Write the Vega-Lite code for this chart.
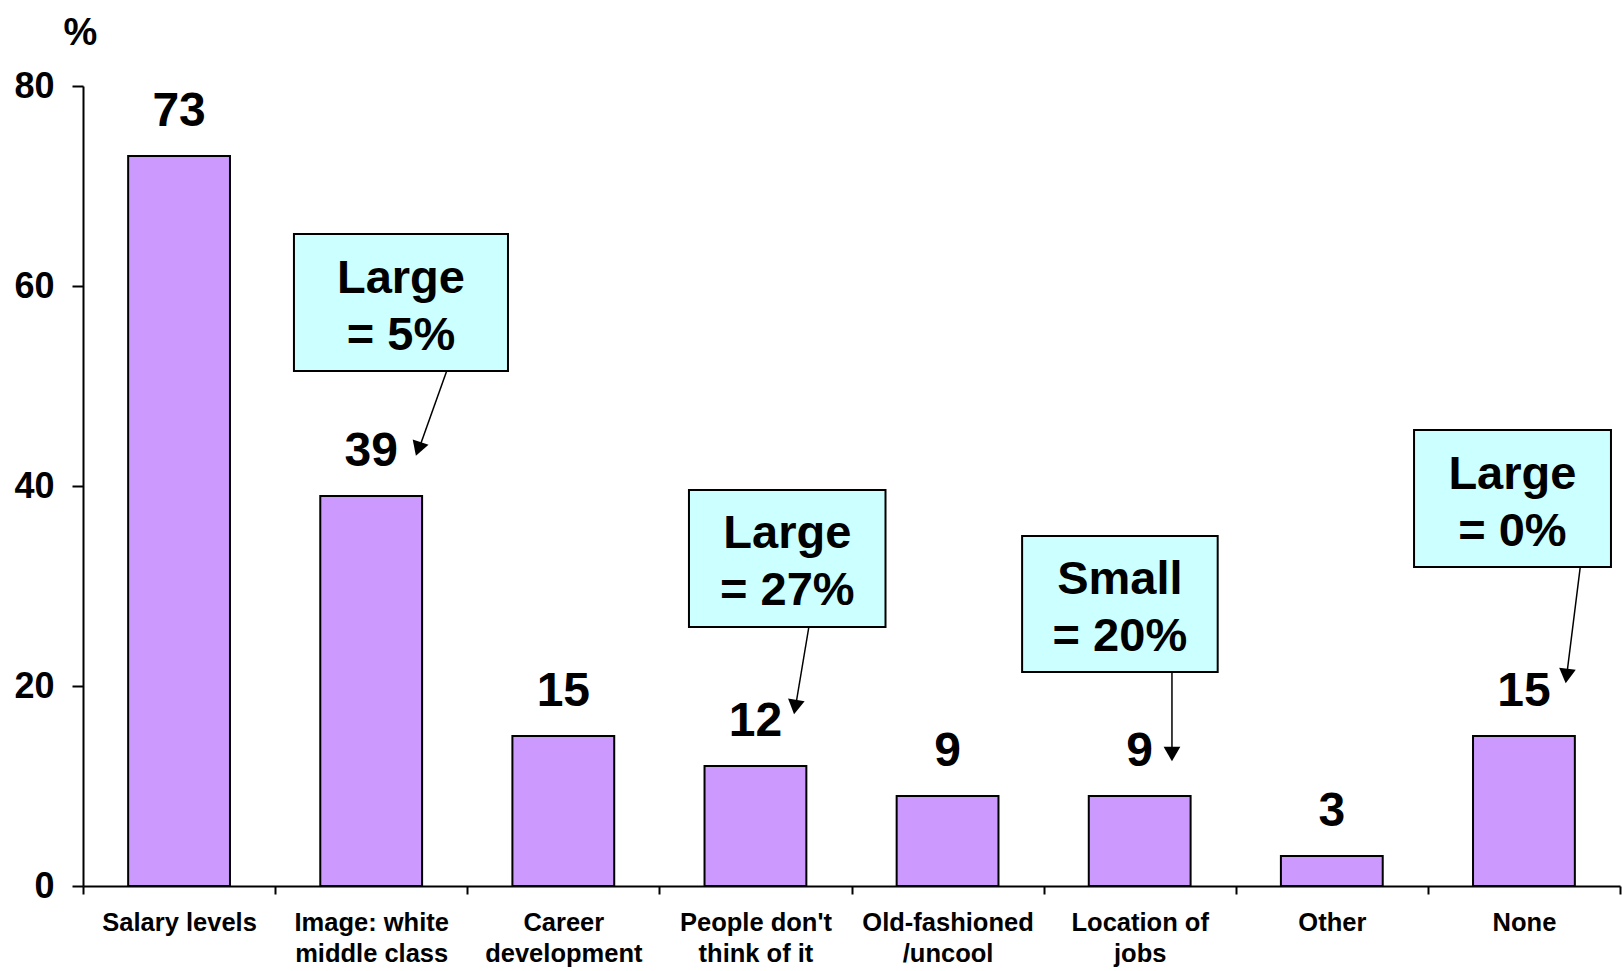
{
  "$schema": "https://vega.github.io/schema/vega-lite/v6.json",
  "width": 1537,
  "height": 800,
  "autosize": {"type": "none"},
  "padding": {"left": 83, "top": 86, "right": 2, "bottom": 85},
  "background": "white",
  "config": {
    "view": {"stroke": null},
    "font": "Liberation Sans",
    "axis": {"grid": false, "domainColor": "black", "domainWidth": 2, "tickColor": "black", "tickWidth": 2, "labelColor": "black", "labelFont": "Liberation Sans", "labelFontWeight": "bold", "titleFont": "Liberation Sans", "titleColor": "black"}
  },
  "datasets": {
    "bars": [
      {"cat": "Salary levels", "pct": 73},
      {"cat": "Image: white\nmiddle class", "pct": 39},
      {"cat": "Career\ndevelopment", "pct": 15},
      {"cat": "People don't\nthink of it", "pct": 12},
      {"cat": "Old-fashioned\n/uncool", "pct": 9},
      {"cat": "Location of\njobs", "pct": 9},
      {"cat": "Other", "pct": 3},
      {"cat": "None", "pct": 15}
    ],
    "boxes": [
      {"x1": 1.098, "x2": 2.212, "y1": 51.5, "y2": 65.2},
      {"x1": 3.154, "x2": 4.177, "y1": 25.9, "y2": 39.6},
      {"x1": 4.888, "x2": 5.906, "y1": 21.4, "y2": 35.0},
      {"x1": 6.928, "x2": 7.953, "y1": 31.9, "y2": 45.6}
    ],
    "notes": [
      {"x": 1.655, "y": 59.3, "t": "Large"},
      {"x": 1.655, "y": 53.6, "t": "= 5%"},
      {"x": 3.666, "y": 33.8, "t": "Large"},
      {"x": 3.666, "y": 28.1, "t": "= 27%"},
      {"x": 5.397, "y": 29.2, "t": "Small"},
      {"x": 5.397, "y": 23.5, "t": "= 20%"},
      {"x": 7.44, "y": 39.7, "t": "Large"},
      {"x": 7.44, "y": 34.0, "t": "= 0%"}
    ],
    "arrows": [
      {"id": 1, "x": 1.893, "y": 51.5, "x2": 1.739, "y2": 43.2, "hx": 1.745, "hy": 43.7},
      {"id": 2, "x": 3.778, "y": 25.9, "x2": 3.704, "y2": 17.4, "hx": 3.707, "hy": 17.9},
      {"id": 3, "x": 5.668, "y": 21.4, "x2": 5.668, "y2": 12.8, "hx": 5.668, "hy": 13.2},
      {"id": 4, "x": 7.793, "y": 31.9, "x2": 7.719, "y2": 20.5, "hx": 7.722, "hy": 21.0}
    ]
  },
  "layer": [
    {
      "data": {"name": "bars"},
      "layer": [
        {
          "mark": {"type": "bar", "width": {"band": 0.53}, "fill": "#CC99FF", "stroke": "black", "strokeWidth": 2},
          "encoding": {
            "x": {"field": "cat", "type": "nominal", "sort": null,
              "scale": {"paddingInner": 0, "paddingOuter": 0},
              "axis": {"title": null, "labelAngle": 0, "labelFontSize": 25.5, "labelLineHeight": 31, "labelPadding": 16, "tickSize": 8, "tickBand": "extent", "labelExpr": "isValid(datum.value) ? split(datum.value, '\\n') : ''"}},
            "y": {"field": "pct", "type": "quantitative",
              "scale": {"domain": [0, 80], "nice": false},
              "axis": {"values": [0, 20, 40, 60, 80], "tickSize": 11, "labelFontSize": 36, "labelPadding": 18,
                "title": "%", "titleAngle": 0, "titleAlign": "center", "titleBaseline": "alphabetic", "titleX": -3, "titleY": -42, "titleFontSize": 38, "titleFontWeight": "bold"}}
          }
        },
        {
          "mark": {"type": "text", "fontSize": 48, "fontWeight": "bold", "baseline": "alphabetic", "align": "center", "dy": -30, "color": "black"},
          "encoding": {
            "x": {"field": "cat", "type": "nominal", "sort": null},
            "y": {"field": "pct", "type": "quantitative"},
            "text": {"field": "pct", "type": "quantitative"}
          }
        }
      ]
    },
    {
      "layer": [
        {
          "data": {"name": "boxes"},
          "mark": {"type": "rect", "fill": "#CCFFFF", "stroke": "black", "strokeWidth": 2},
          "encoding": {
            "x": {"field": "x1", "type": "quantitative", "scale": {"domain": [0, 8], "nice": false, "zero": false}, "axis": null},
            "x2": {"field": "x2"},
            "y": {"field": "y1", "type": "quantitative"},
            "y2": {"field": "y2"}
          }
        },
        {
          "data": {"name": "notes"},
          "mark": {"type": "text", "fontSize": 47, "fontWeight": "bold", "baseline": "alphabetic", "align": "center", "color": "black"},
          "encoding": {
            "x": {"field": "x", "type": "quantitative", "axis": null},
            "y": {"field": "y", "type": "quantitative"},
            "text": {"field": "t", "type": "nominal"}
          }
        },
        {
          "data": {"name": "arrows"},
          "mark": {"type": "rule", "color": "black", "strokeWidth": 1.5},
          "encoding": {
            "x": {"field": "x", "type": "quantitative", "axis": null},
            "y": {"field": "y", "type": "quantitative"},
            "x2": {"field": "x2"},
            "y2": {"field": "y2"}
          }
        },
        {
          "data": {"name": "arrows"},
          "transform": [{"filter": "datum.id == 1"}],
          "mark": {"type": "point", "shape": "triangle-down", "filled": true, "color": "black", "size": 280, "angle": 19, "opacity": 1},
          "encoding": {"x": {"field": "hx", "type": "quantitative", "axis": null}, "y": {"field": "hy", "type": "quantitative"}}
        },
        {
          "data": {"name": "arrows"},
          "transform": [{"filter": "datum.id == 2"}],
          "mark": {"type": "point", "shape": "triangle-down", "filled": true, "color": "black", "size": 280, "angle": 9, "opacity": 1},
          "encoding": {"x": {"field": "hx", "type": "quantitative", "axis": null}, "y": {"field": "hy", "type": "quantitative"}}
        },
        {
          "data": {"name": "arrows"},
          "transform": [{"filter": "datum.id == 3"}],
          "mark": {"type": "point", "shape": "triangle-down", "filled": true, "color": "black", "size": 280, "angle": 0, "opacity": 1},
          "encoding": {"x": {"field": "hx", "type": "quantitative", "axis": null}, "y": {"field": "hy", "type": "quantitative"}}
        },
        {
          "data": {"name": "arrows"},
          "transform": [{"filter": "datum.id == 4"}],
          "mark": {"type": "point", "shape": "triangle-down", "filled": true, "color": "black", "size": 280, "angle": 7, "opacity": 1},
          "encoding": {"x": {"field": "hx", "type": "quantitative", "axis": null}, "y": {"field": "hy", "type": "quantitative"}}
        }
      ]
    }
  ],
  "resolve": {"scale": {"x": "independent"}}
}
